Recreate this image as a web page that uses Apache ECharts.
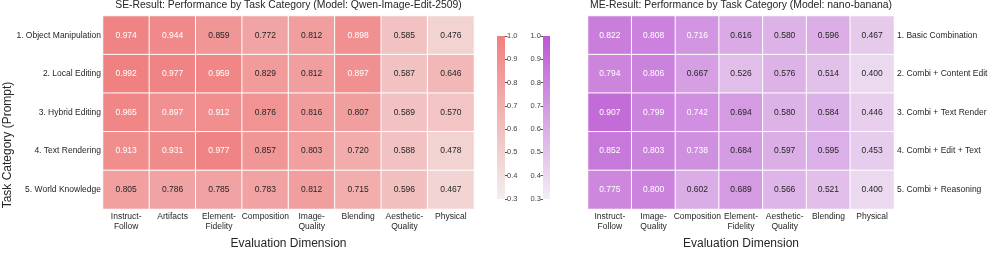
<!DOCTYPE html>
<html>
<head>
<meta charset="utf-8">
<script src="https://cdn.jsdelivr.net/npm/echarts@6/dist/echarts.min.js"></script>
<style>html,body{margin:0;padding:0;background:#fff}#c{width:996px;height:255px}</style>
</head>
<body>
<div id="c"></div>
<script>
var seCols = ['Instruct-\nFollow','Artifacts','Element-\nFidelity','Composition','Image-\nQuality','Blending','Aesthetic-\nQuality','Physical'];
var seRows = ['1. Object Manipulation','2. Local Editing','3. Hybrid Editing','4. Text Rendering','5. World Knowledge'];
var seValues = [
  [0.974,0.944,0.859,0.772,0.812,0.898,0.585,0.476],
  [0.992,0.977,0.959,0.829,0.812,0.897,0.587,0.646],
  [0.965,0.897,0.912,0.876,0.816,0.807,0.589,0.570],
  [0.913,0.931,0.977,0.857,0.803,0.720,0.588,0.478],
  [0.805,0.786,0.785,0.783,0.812,0.715,0.596,0.467]
];
var meCols = ['Instruct-\nFollow','Image-\nQuality','Composition','Element-\nFidelity','Aesthetic-\nQuality','Blending','Physical'];
var meRows = ['1. Basic Combination','2. Combi + Content Edit','3. Combi + Text Render','4. Combi + Edit + Text','5. Combi + Reasoning'];
var meValues = [
  [0.822,0.808,0.716,0.616,0.580,0.596,0.467],
  [0.794,0.806,0.667,0.526,0.576,0.514,0.400],
  [0.907,0.799,0.742,0.694,0.580,0.584,0.446],
  [0.852,0.803,0.738,0.684,0.597,0.595,0.453],
  [0.775,0.800,0.602,0.689,0.566,0.521,0.400]
];
var scaleMin = 0.3, scaleMax = 1.0;
var seTitle = 'SE-Result: Performance by Task Category (Model: Qwen-Image-Edit-2509)';
var meTitle = 'ME-Result: Performance by Task Category (Model: nano-banana)';

var FONT = '"Liberation Sans", Arial, Helvetica, sans-serif';
var TXT = '#262626';
var seLow = '#f4eeee', seHigh = '#f08080';
var meLow = '#f2eef4', meHigh = '#bc58d4';

function toData(vals, thr) {
  var out = [];
  vals.forEach(function (row, r) {
    row.forEach(function (v, c) {
      out.push({value: [c, r, v], label: {color: v > thr ? '#ffffff' : TXT}});
    });
  });
  return out;
}

var chart = echarts.init(document.getElementById('c'), null, {renderer: 'canvas'});
var catAxisLabel = {fontFamily: FONT, fontSize: 8.5, color: TXT, lineHeight: 10};
var cbLabel = {fontFamily: FONT, fontSize: 7.5, color: '#444', margin: 2, formatter: function (v) { return v.toFixed(1); }};
var option = {
  animation: false,
  backgroundColor: '#fff',
  title: [
    {text: seTitle, left: 288.5, top: 0, padding: 0, textAlign: 'center', textStyle: {fontFamily: FONT, fontSize: 10.4, fontWeight: 'normal', color: TXT}},
    {text: meTitle, left: 741, top: 0, padding: 0, textAlign: 'center', textStyle: {fontFamily: FONT, fontSize: 10.4, fontWeight: 'normal', color: TXT}}
  ],
  grid: [
    {left: 103, top: 16, width: 371, height: 203},
    {left: 588, top: 16, width: 306, height: 203},
    {left: 497, top: 36, width: 8, height: 163},
    {left: 543, top: 36, width: 7, height: 163}
  ],
  xAxis: [
    {type: 'category', gridIndex: 0, data: seCols, axisLine: {show: false}, axisTick: {show: false},
     axisLabel: Object.assign({interval: 0, margin: 3}, catAxisLabel),
     name: 'Evaluation Dimension', nameLocation: 'middle', nameGap: 29,
     nameTextStyle: {fontFamily: FONT, fontSize: 12, color: TXT}},
    {type: 'category', gridIndex: 1, data: meCols, axisLine: {show: false}, axisTick: {show: false},
     axisLabel: Object.assign({interval: 0, margin: 3}, catAxisLabel),
     name: 'Evaluation Dimension', nameLocation: 'middle', nameGap: 29,
     nameTextStyle: {fontFamily: FONT, fontSize: 12, color: TXT}},
    {type: 'category', gridIndex: 2, data: [''], show: false},
    {type: 'category', gridIndex: 3, data: [''], show: false}
  ],
  yAxis: [
    {type: 'category', gridIndex: 0, data: seRows, inverse: true, axisLine: {show: false}, axisTick: {show: false},
     axisLabel: Object.assign({margin: 2}, catAxisLabel)},
    {type: 'category', gridIndex: 1, data: meRows, inverse: true, position: 'right', axisLine: {show: false}, axisTick: {show: false},
     axisLabel: Object.assign({margin: 3}, catAxisLabel)},
    {type: 'value', gridIndex: 2, min: scaleMin, max: scaleMax, interval: 0.1, position: 'right',
     splitLine: {show: false}, axisLine: {show: false},
     axisTick: {show: true, length: 2.5, lineStyle: {color: '#555'}}, axisLabel: cbLabel},
    {type: 'value', gridIndex: 3, min: scaleMin, max: scaleMax, interval: 0.1, position: 'left',
     splitLine: {show: false}, axisLine: {show: false},
     axisTick: {show: true, length: 2.5, lineStyle: {color: '#555'}}, axisLabel: cbLabel}
  ],
  visualMap: [
    {show: false, seriesIndex: 0, dimension: 2, min: scaleMin, max: scaleMax, inRange: {color: [seLow, seHigh]}},
    {show: false, seriesIndex: 1, dimension: 2, min: scaleMin, max: scaleMax, inRange: {color: [meLow, meHigh]}}
  ],
  graphic: [
    {type: 'text', x: 8, y: 145, rotation: Math.PI / 2,
     style: {text: 'Task Category (Prompt)', fontFamily: FONT, fontSize: 12, fill: TXT, align: 'center', verticalAlign: 'middle'}}
  ],
  series: [
    {type: 'heatmap', xAxisIndex: 0, yAxisIndex: 0, data: toData(seValues, 0.885),
     itemStyle: {borderColor: '#ffffff', borderWidth: 1},
     label: {show: true, fontFamily: FONT, fontSize: 8.5, formatter: function (p) { return p.value[2].toFixed(3); }},
     emphasis: {disabled: true}},
    {type: 'heatmap', xAxisIndex: 1, yAxisIndex: 1, data: toData(meValues, 0.705),
     itemStyle: {borderColor: '#ffffff', borderWidth: 1},
     label: {show: true, fontFamily: FONT, fontSize: 8.5, formatter: function (p) { return p.value[2].toFixed(3); }},
     emphasis: {disabled: true}},
    {type: 'bar', xAxisIndex: 2, yAxisIndex: 2, data: [scaleMax], barWidth: '100%', clip: true, silent: true,
     itemStyle: {color: new echarts.graphic.LinearGradient(0, 0, 0, 1, [{offset: 0, color: seHigh}, {offset: 1, color: seLow}])}},
    {type: 'bar', xAxisIndex: 3, yAxisIndex: 3, data: [scaleMax], barWidth: '100%', clip: true, silent: true,
     itemStyle: {color: new echarts.graphic.LinearGradient(0, 0, 0, 1, [{offset: 0, color: meHigh}, {offset: 1, color: meLow}])}}
  ]
};
chart.setOption(option);
</script>
</body>
</html>
